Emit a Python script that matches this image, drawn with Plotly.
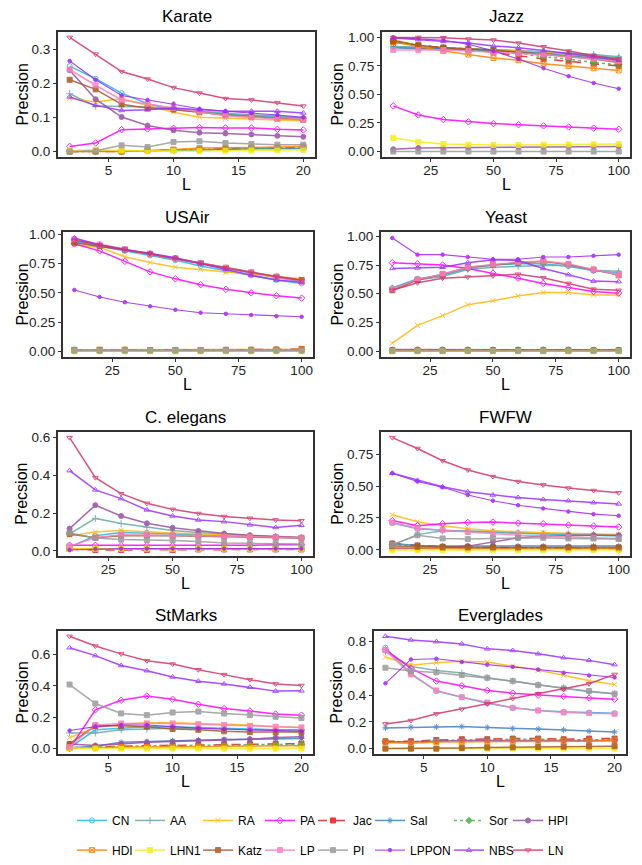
import plotly.graph_objects as go

METHODS = ["CN", "AA", "RA", "PA", "Jac", "Sal", "Sor", "HPI",
           "HDI", "LHN1", "Katz", "LP", "PI", "LPPON", "NBS", "LN"]
COLORS = ["#22B5E8", "#6AA6AA", "#FFB90F", "#FF00FF", "#E41A1C", "#3F7FBF", "#4DAF4A", "#984EA3",
          "#FF7F00", "#F2EE1A", "#A65628", "#F781BF", "#999999", "#A020F0", "#9B30FF", "#D0356B"]
SYMBOLS = ["circle-open", "cross-thin-open", "x-thin-open", "diamond-open", "square", "asterisk-open",
           "diamond", "circle", "square-x-open", "square", "square", "square", "square", "circle",
           "triangle-up-open", "triangle-down-open"]
DASHES = ["solid", "solid", "solid", "solid", "dash", "solid", "dot", "solid",
          "solid", "solid", "solid", "solid", "solid", "solid", "solid", "solid"]

L_SMALL = [2, 4, 6, 8, 10, 12, 14, 16, 18, 20]
L_LARGE = [10, 20, 30, 40, 50, 60, 70, 80, 90, 100]

# ---------------- Karate ----------------
karate_CN = [0.25, 0.213, 0.171, 0.14, 0.122, 0.115, 0.11, 0.105, 0.102, 0.098]
karate_AA = [0.169, 0.133, 0.132, 0.13, 0.125, 0.118, 0.112, 0.107, 0.105, 0.098]
karate_RA = [0.155, 0.145, 0.155, 0.135, 0.115, 0.10, 0.097, 0.095, 0.093, 0.09]
karate_PA = [0.015, 0.025, 0.064, 0.066, 0.068, 0.07, 0.069, 0.069, 0.065, 0.063]
karate_Jac = [0, 0, 0, 0.003, 0.005, 0.006, 0.008, 0.01, 0.01, 0.012]
karate_Sal = [0, 0, 0, 0.002, 0.003, 0.005, 0.006, 0.008, 0.008, 0.009]
karate_Sor = [0, 0, 0, 0.002, 0.004, 0.006, 0.008, 0.01, 0.011, 0.012]
karate_HPI = [0.238, 0.153, 0.101, 0.076, 0.062, 0.055, 0.053, 0.05, 0.046, 0.043]
karate_HDI = [0, 0, 0, 0.003, 0.005, 0.01, 0.01, 0.012, 0.013, 0.015]
karate_LHN1 = [0.003, 0.005, 0.003, 0.002, 0.002, 0.001, 0.002, 0.003, 0.004, 0.005]
karate_Katz = [0.21, 0.182, 0.138, 0.127, 0.123, 0.115, 0.107, 0.102, 0.097, 0.093]
karate_LP = [0.24, 0.194, 0.151, 0.14, 0.127, 0.117, 0.105, 0.10, 0.095, 0.093]
karate_PI = [0, 0.002, 0.018, 0.013, 0.028, 0.03, 0.025, 0.022, 0.02, 0.02]
karate_LPPON = [0.265, 0.21, 0.164, 0.151, 0.14, 0.125, 0.118, 0.113, 0.107, 0.10]
karate_NBS = [0.16, 0.135, 0.12, 0.122, 0.127, 0.122, 0.118, 0.118, 0.118, 0.113]
karate_LN = [0.334, 0.285, 0.234, 0.212, 0.187, 0.171, 0.155, 0.151, 0.143, 0.133]

# ---------------- Jazz ----------------
jazz_CN = [0.92, 0.91, 0.90, 0.90, 0.89, 0.88, 0.87, 0.86, 0.84, 0.82]
jazz_AA = [0.92, 0.91, 0.905, 0.90, 0.895, 0.885, 0.875, 0.865, 0.85, 0.83]
jazz_RA = [0.98, 0.93, 0.91, 0.90, 0.89, 0.88, 0.87, 0.85, 0.83, 0.81]
jazz_PA = [0.40, 0.32, 0.28, 0.26, 0.245, 0.235, 0.225, 0.215, 0.205, 0.195]
jazz_Jac = [0.96, 0.93, 0.91, 0.89, 0.87, 0.84, 0.81, 0.79, 0.77, 0.75]
jazz_Sal = [0.91, 0.90, 0.90, 0.89, 0.88, 0.87, 0.86, 0.84, 0.82, 0.80]
jazz_Sor = [0.97, 0.93, 0.91, 0.90, 0.88, 0.86, 0.83, 0.81, 0.78, 0.76]
jazz_HPI = [0.02, 0.03, 0.033, 0.035, 0.038, 0.04, 0.04, 0.043, 0.045, 0.045]
jazz_HDI = [0.96, 0.92, 0.88, 0.85, 0.82, 0.80, 0.77, 0.75, 0.73, 0.71]
jazz_LHN1 = [0.12, 0.085, 0.065, 0.06, 0.058, 0.058, 0.06, 0.062, 0.063, 0.065]
jazz_Katz = [0.97, 0.93, 0.91, 0.90, 0.89, 0.87, 0.85, 0.83, 0.81, 0.78]
jazz_LP = [0.89, 0.89, 0.89, 0.88, 0.87, 0.86, 0.85, 0.83, 0.81, 0.79]
jazz_PI = [0, 0, 0, 0, 0, 0, 0, 0, 0, 0]
jazz_LPPON = [1.0, 0.99, 0.975, 0.94, 0.88, 0.81, 0.73, 0.66, 0.60, 0.55]
jazz_NBS = [0.995, 0.98, 0.965, 0.95, 0.925, 0.91, 0.885, 0.86, 0.83, 0.80]
jazz_LN = [1.0, 1.0, 0.997, 0.985, 0.977, 0.95, 0.918, 0.88, 0.84, 0.81]

# ---------------- USAir ----------------
usair_CN = [0.94, 0.90, 0.86, 0.82, 0.78, 0.73, 0.69, 0.65, 0.61, 0.58]
usair_AA = [0.95, 0.91, 0.87, 0.83, 0.79, 0.75, 0.71, 0.67, 0.63, 0.60]
usair_RA = [0.91, 0.89, 0.81, 0.76, 0.72, 0.70, 0.675, 0.66, 0.64, 0.62]
usair_PA = [0.92, 0.86, 0.77, 0.68, 0.62, 0.57, 0.53, 0.50, 0.475, 0.455]
usair_Jac = [0.01, 0.012, 0.012, 0.01, 0.01, 0.01, 0.012, 0.012, 0.015, 0.02]
usair_Sal = [0.005, 0.005, 0.005, 0.005, 0.005, 0.005, 0.005, 0.005, 0.005, 0.005]
usair_Sor = [0.01, 0.01, 0.01, 0.008, 0.008, 0.008, 0.01, 0.01, 0.012, 0.015]
usair_HPI = [0.002, 0.002, 0.002, 0.002, 0.002, 0.002, 0.002, 0.002, 0.002, 0.002]
usair_HDI = [0.012, 0.012, 0.012, 0.01, 0.01, 0.01, 0.01, 0.012, 0.012, 0.015]
usair_LHN1 = [0, 0, 0, 0, 0, 0, 0, 0, 0, 0]
usair_Katz = [0.93, 0.90, 0.87, 0.835, 0.795, 0.755, 0.715, 0.675, 0.64, 0.61]
usair_LP = [0.96, 0.915, 0.875, 0.835, 0.795, 0.755, 0.715, 0.675, 0.635, 0.595]
usair_PI = [0.005, 0.005, 0.005, 0.005, 0.005, 0.005, 0.005, 0.005, 0.005, 0.005]
usair_LPPON = [0.525, 0.465, 0.42, 0.385, 0.355, 0.33, 0.32, 0.31, 0.30, 0.295]
usair_NBS = [0.97, 0.91, 0.87, 0.84, 0.80, 0.75, 0.70, 0.65, 0.61, 0.59]
usair_LN = [0.95, 0.91, 0.875, 0.835, 0.795, 0.755, 0.715, 0.675, 0.64, 0.605]

# ---------------- Yeast ----------------
yeast_CN = [0.55, 0.63, 0.66, 0.72, 0.75, 0.76, 0.76, 0.74, 0.70, 0.68]
yeast_AA = [0.55, 0.62, 0.65, 0.71, 0.73, 0.74, 0.745, 0.745, 0.705, 0.695]
yeast_RA = [0.07, 0.225, 0.31, 0.405, 0.44, 0.48, 0.51, 0.51, 0.49, 0.49]
yeast_PA = [0.77, 0.76, 0.75, 0.72, 0.68, 0.635, 0.59, 0.555, 0.52, 0.505]
yeast_Jac = [0.008, 0.008, 0.008, 0.008, 0.008, 0.008, 0.008, 0.008, 0.008, 0.008]
yeast_Sal = [0.005, 0.005, 0.005, 0.005, 0.005, 0.005, 0.005, 0.005, 0.005, 0.005]
yeast_Sor = [0.008, 0.008, 0.008, 0.008, 0.008, 0.008, 0.008, 0.008, 0.008, 0.008]
yeast_HPI = [0.015, 0.015, 0.015, 0.015, 0.015, 0.015, 0.015, 0.015, 0.012, 0.012]
yeast_HDI = [0.005, 0.005, 0.005, 0.005, 0.005, 0.005, 0.005, 0.005, 0.005, 0.005]
yeast_LHN1 = [0, 0, 0, 0, 0, 0, 0, 0, 0, 0]
yeast_Katz = [0.53, 0.62, 0.67, 0.73, 0.75, 0.77, 0.78, 0.755, 0.71, 0.66]
yeast_LP = [0.54, 0.625, 0.67, 0.73, 0.755, 0.775, 0.785, 0.76, 0.71, 0.665]
yeast_PI = [0.003, 0.003, 0.003, 0.003, 0.003, 0.003, 0.003, 0.003, 0.003, 0.003]
yeast_LPPON = [0.985, 0.84, 0.84, 0.82, 0.80, 0.80, 0.82, 0.82, 0.83, 0.84]
yeast_NBS = [0.72, 0.725, 0.73, 0.77, 0.795, 0.79, 0.72, 0.665, 0.61, 0.605]
yeast_LN = [0.53, 0.595, 0.635, 0.645, 0.655, 0.67, 0.64, 0.59, 0.54, 0.53]

# ---------------- C. elegans ----------------
celegans_CN = [0.02, 0.08, 0.097, 0.095, 0.09, 0.085, 0.08, 0.077, 0.073, 0.07]
celegans_AA = [0.09, 0.172, 0.145, 0.125, 0.108, 0.097, 0.088, 0.08, 0.075, 0.07]
celegans_RA = [0.08, 0.10, 0.108, 0.10, 0.095, 0.09, 0.085, 0.08, 0.075, 0.07]
celegans_PA = [0.03, 0.03, 0.028, 0.028, 0.028, 0.03, 0.03, 0.03, 0.032, 0.032]
celegans_Jac = [0.01, 0.005, 0.005, 0.005, 0.005, 0.008, 0.008, 0.008, 0.008, 0.008]
celegans_Sal = [0.012, 0.012, 0.012, 0.012, 0.012, 0.012, 0.012, 0.012, 0.012, 0.012]
celegans_Sor = [0.01, 0.01, 0.01, 0.01, 0.01, 0.01, 0.01, 0.01, 0.01, 0.01]
celegans_HPI = [0.118, 0.242, 0.185, 0.146, 0.122, 0.106, 0.092, 0.083, 0.076, 0.071]
celegans_HDI = [0.012, 0.012, 0.012, 0.012, 0.012, 0.012, 0.012, 0.012, 0.012, 0.012]
celegans_LHN1 = [0.01, 0.012, 0.012, 0.012, 0.012, 0.012, 0.012, 0.012, 0.012, 0.012]
celegans_Katz = [0.09, 0.07, 0.08, 0.082, 0.08, 0.078, 0.075, 0.072, 0.07, 0.068]
celegans_LP = [0.025, 0.07, 0.085, 0.085, 0.082, 0.08, 0.077, 0.075, 0.072, 0.07]
celegans_PI = [0.095, 0.068, 0.06, 0.058, 0.055, 0.05, 0.042, 0.04, 0.038, 0.037]
celegans_LPPON = [0.005, 0.01, 0.012, 0.012, 0.012, 0.012, 0.012, 0.012, 0.012, 0.012]
celegans_NBS = [0.425, 0.323, 0.277, 0.217, 0.185, 0.164, 0.155, 0.138, 0.124, 0.136]
celegans_LN = [0.60, 0.388, 0.303, 0.252, 0.22, 0.198, 0.182, 0.173, 0.164, 0.16]

# ---------------- FWFW ----------------
fwfw_CN = [0.21, 0.165, 0.155, 0.145, 0.14, 0.13, 0.125, 0.12, 0.115, 0.11]
fwfw_AA = [0.04, 0.12, 0.15, 0.15, 0.145, 0.135, 0.13, 0.125, 0.12, 0.115]
fwfw_RA = [0.275, 0.22, 0.19, 0.165, 0.15, 0.14, 0.135, 0.13, 0.125, 0.12]
fwfw_PA = [0.23, 0.19, 0.205, 0.215, 0.218, 0.21, 0.205, 0.195, 0.187, 0.18]
fwfw_Jac = [0.05, 0.035, 0.025, 0.02, 0.02, 0.015, 0.015, 0.015, 0.012, 0.01]
fwfw_Sal = [0.05, 0.035, 0.03, 0.03, 0.03, 0.03, 0.03, 0.03, 0.03, 0.03]
fwfw_Sor = [0.045, 0.03, 0.025, 0.02, 0.02, 0.015, 0.015, 0.015, 0.012, 0.01]
fwfw_HPI = [0.01, 0.01, 0.015, 0.03, 0.065, 0.095, 0.11, 0.115, 0.115, 0.115]
fwfw_HDI = [0.02, 0.015, 0.015, 0.01, 0.01, 0.01, 0.01, 0.01, 0.01, 0.01]
fwfw_LHN1 = [0, 0, 0, 0, 0, 0, 0, 0, 0, 0]
fwfw_Katz = [0.03, 0.025, 0.02, 0.02, 0.02, 0.02, 0.02, 0.02, 0.02, 0.02]
fwfw_LP = [0.215, 0.17, 0.155, 0.14, 0.125, 0.115, 0.11, 0.10, 0.095, 0.09]
fwfw_PI = [0.04, 0.115, 0.09, 0.085, 0.09, 0.095, 0.095, 0.09, 0.09, 0.085]
fwfw_LPPON = [0.60, 0.535, 0.49, 0.43, 0.385, 0.35, 0.325, 0.30, 0.28, 0.268]
fwfw_NBS = [0.60, 0.545, 0.495, 0.455, 0.43, 0.41, 0.395, 0.385, 0.37, 0.36]
fwfw_LN = [0.879, 0.794, 0.698, 0.626, 0.574, 0.535, 0.509, 0.484, 0.465, 0.447]

# ---------------- StMarks ----------------
stmarks_CN = [0.005, 0.12, 0.13, 0.14, 0.14, 0.135, 0.13, 0.125, 0.12, 0.12]
stmarks_AA = [0.10, 0.10, 0.12, 0.125, 0.13, 0.13, 0.125, 0.12, 0.12, 0.12]
stmarks_RA = [0.07, 0.135, 0.155, 0.165, 0.165, 0.16, 0.155, 0.15, 0.14, 0.135]
stmarks_PA = [0.0, 0.247, 0.308, 0.335, 0.314, 0.282, 0.255, 0.24, 0.22, 0.213]
stmarks_Jac = [0.005, 0.01, 0.015, 0.02, 0.02, 0.022, 0.025, 0.028, 0.03, 0.032]
stmarks_Sal = [0.005, 0.015, 0.04, 0.045, 0.05, 0.055, 0.058, 0.06, 0.062, 0.065]
stmarks_Sor = [0.005, 0.01, 0.015, 0.018, 0.02, 0.02, 0.022, 0.025, 0.025, 0.028]
stmarks_HPI = [0.03, 0.02, 0.03, 0.04, 0.045, 0.05, 0.055, 0.06, 0.07, 0.075]
stmarks_HDI = [0.005, 0.005, 0.01, 0.01, 0.012, 0.012, 0.015, 0.015, 0.015, 0.018]
stmarks_LHN1 = [0.005, 0, 0, 0, 0, 0, 0, 0, 0, 0]
stmarks_Katz = [0.03, 0.145, 0.145, 0.14, 0.125, 0.12, 0.11, 0.105, 0.105, 0.105]
stmarks_LP = [0.01, 0.15, 0.16, 0.16, 0.16, 0.155, 0.15, 0.145, 0.14, 0.135]
stmarks_PI = [0.408, 0.287, 0.224, 0.213, 0.23, 0.236, 0.224, 0.213, 0.203, 0.195]
stmarks_LPPON = [0.115, 0.14, 0.15, 0.15, 0.14, 0.13, 0.125, 0.12, 0.115, 0.11]
stmarks_NBS = [0.642, 0.592, 0.529, 0.496, 0.456, 0.429, 0.412, 0.391, 0.366, 0.368]
stmarks_LN = [0.715, 0.653, 0.603, 0.559, 0.538, 0.502, 0.471, 0.439, 0.412, 0.402]

# ---------------- Everglades ----------------
everglades_CN = [0.755, 0.56, 0.43, 0.385, 0.34, 0.305, 0.285, 0.275, 0.27, 0.265]
everglades_AA = [0.725, 0.615, 0.585, 0.565, 0.53, 0.505, 0.475, 0.455, 0.425, 0.41]
everglades_RA = [0.685, 0.623, 0.643, 0.653, 0.648, 0.618, 0.586, 0.549, 0.507, 0.48]
everglades_PA = [0.74, 0.60, 0.505, 0.47, 0.435, 0.415, 0.40, 0.39, 0.378, 0.37]
everglades_Jac = [0.055, 0.055, 0.065, 0.07, 0.07, 0.075, 0.075, 0.07, 0.075, 0.075]
everglades_Sal = [0.155, 0.16, 0.162, 0.165, 0.158, 0.15, 0.146, 0.14, 0.13, 0.125]
everglades_Sor = [0.055, 0.05, 0.06, 0.065, 0.065, 0.07, 0.07, 0.065, 0.065, 0.07]
everglades_HPI = [0.05, 0.05, 0.055, 0.06, 0.06, 0.06, 0.06, 0.06, 0.06, 0.06]
everglades_HDI = [0.045, 0.04, 0.05, 0.05, 0.05, 0.055, 0.055, 0.055, 0.055, 0.06]
everglades_LHN1 = [0, 0, 0, 0, 0, 0, 0, 0, 0, 0]
everglades_Katz = [0.0, 0.0, 0.0, 0.005, 0.008, 0.01, 0.012, 0.015, 0.017, 0.018]
everglades_LP = [0.735, 0.555, 0.435, 0.385, 0.345, 0.305, 0.285, 0.27, 0.265, 0.26]
everglades_PI = [0.605, 0.58, 0.57, 0.55, 0.53, 0.505, 0.475, 0.45, 0.43, 0.41]
everglades_LPPON = [0.488, 0.667, 0.672, 0.648, 0.628, 0.611, 0.591, 0.567, 0.547, 0.532]
everglades_NBS = [0.84, 0.813, 0.80, 0.783, 0.746, 0.734, 0.709, 0.68, 0.66, 0.628]
everglades_LN = [0.185, 0.21, 0.26, 0.295, 0.335, 0.375, 0.41, 0.445, 0.485, 0.555]

PANEL_TITLES = ["Karate", "Jazz", "USAir", "Yeast", "C. elegans", "FWFW", "StMarks", "Everglades"]
PANEL_PREFIX = ["karate", "jazz", "usair", "yeast", "celegans", "fwfw", "stmarks", "everglades"]
PANEL_X = [L_SMALL, L_LARGE, L_LARGE, L_LARGE, L_LARGE, L_LARGE, L_SMALL, L_SMALL]
PANEL_XTICKS = [[5, 10, 15, 20], [25, 50, 75, 100], [25, 50, 75, 100], [25, 50, 75, 100],
                [25, 50, 75, 100], [25, 50, 75, 100], [5, 10, 15, 20], [5, 10, 15, 20]]
PANEL_YTICKS = [[0.0, 0.1, 0.2, 0.3], [0, 0.25, 0.5, 0.75, 1.0], [0, 0.25, 0.5, 0.75, 1.0],
                [0, 0.25, 0.5, 0.75, 1.0], [0.0, 0.2, 0.4, 0.6], [0, 0.25, 0.5, 0.75],
                [0.0, 0.2, 0.4, 0.6], [0.0, 0.2, 0.4, 0.6, 0.8]]
PANEL_YFMT = [".1f", ".2f", ".2f", ".2f", ".1f", ".2f", ".1f", ".1f"]

# ---------------- layout (pixels in a 642x865 page) ----------------
W, H = 642, 865
PANEL_BOX = [(58, 315, 27, 154), (382, 630, 27, 154),
             (63, 313, 230, 356), (381, 630, 230, 356),
             (58, 313, 432, 557), (381, 630, 432, 557),
             (58, 313, 633, 758), (374, 626, 633, 758)]
YTITLE_X = [22, 337, 23, 338, 22, 338, 22, 336]
LEG_TEXT_X = [112, 170, 238, 300, 353, 410, 489, 548]
LEG_ROW_Y = [825, 855]

FONT = "Liberation Sans, Arial, sans-serif"
fig = go.Figure()
annotations = []
layout_axes = {}

g = globals()
for p in range(8):
    xs = PANEL_X[p]
    series = [g[PANEL_PREFIX[p] + "_" + m] for m in METHODS]
    xa = "x" if p == 0 else f"x{p + 1}"
    ya = "y" if p == 0 else f"y{p + 1}"
    for i, m in enumerate(METHODS):
        leg = "legend" if i == 0 else f"legend{i + 1}"
        fig.add_trace(go.Scatter(
            x=xs, y=series[i], mode="lines+markers", name=m,
            xaxis=xa, yaxis=ya, legend=leg, legendgroup=m, showlegend=(p == 0),
            opacity=0.85,
            line=dict(color=COLORS[i], width=1.5 if m != "LPPON" else 1.1, dash=DASHES[i]),
            marker=dict(symbol=SYMBOLS[i], size=5 if m != "LPPON" else 3.5, color=COLORS[i],
                        line=dict(color=COLORS[i], width=1)),
        ))
    allv = [v for s in series for v in s]
    lo, hi = min(allv), max(allv)
    pad = 0.05 * (hi - lo)
    xlo, xhi = min(xs), max(xs)
    xpad = 0.05 * (xhi - xlo)
    x0, x1, t, b = PANEL_BOX[p]
    common = dict(showgrid=False, zeroline=False, showline=True, mirror=True,
                  linecolor="#333333", linewidth=2, ticks="outside", ticklen=3,
                  tickcolor="#333333", tickwidth=1,
                  tickfont=dict(family=FONT, size=13.5, color="#222222"))
    layout_axes["xaxis" if p == 0 else f"xaxis{p + 1}"] = dict(
        domain=[x0 / W, x1 / W], anchor=ya, range=[xlo - xpad, xhi + xpad],
        tickvals=PANEL_XTICKS[p], ticklabelstandoff=-3, **common)
    layout_axes["yaxis" if p == 0 else f"yaxis{p + 1}"] = dict(
        domain=[1 - b / H, 1 - t / H], anchor=xa, range=[lo - pad, hi + pad],
        tickvals=PANEL_YTICKS[p], tickformat=PANEL_YFMT[p], **common)
    annotations.append(dict(text=PANEL_TITLES[p], x=(x0 + x1) / 2 / W, y=1 - (t - 15) / H,
                            xref="paper", yref="paper", showarrow=False,
                            xanchor="center", yanchor="middle",
                            font=dict(family=FONT, size=17, color="black")))
    annotations.append(dict(text="Precsion", x=YTITLE_X[p] / W, y=1 - (t + b) / 2 / H,
                            xref="paper", yref="paper", showarrow=False, textangle=-90,
                            xanchor="center", yanchor="middle",
                            font=dict(family=FONT, size=16, color="black")))
    annotations.append(dict(text="L", x=(x0 + x1) / 2 / W, y=1 - (b + 28) / H,
                            xref="paper", yref="paper", showarrow=False,
                            xanchor="center", yanchor="middle",
                            font=dict(family=FONT, size=16, color="black")))

legends = {}
for i, m in enumerate(METHODS):
    key = "legend" if i == 0 else f"legend{i + 1}"
    legends[key] = dict(x=(LEG_TEXT_X[i % 8] - 40) / W, xanchor="left",
                        y=1 - LEG_ROW_Y[i // 8] / H, yanchor="middle",
                        orientation="v", bgcolor="rgba(0,0,0,0)", borderwidth=0,
                        itemwidth=30,
                        font=dict(family=FONT, size=12, color="black"))

fig.update_layout(width=W, height=H, margin=dict(l=0, r=0, t=0, b=0),
                  paper_bgcolor="white", plot_bgcolor="white",
                  annotations=annotations, **layout_axes, **legends)
fig.write_html("out.html")
